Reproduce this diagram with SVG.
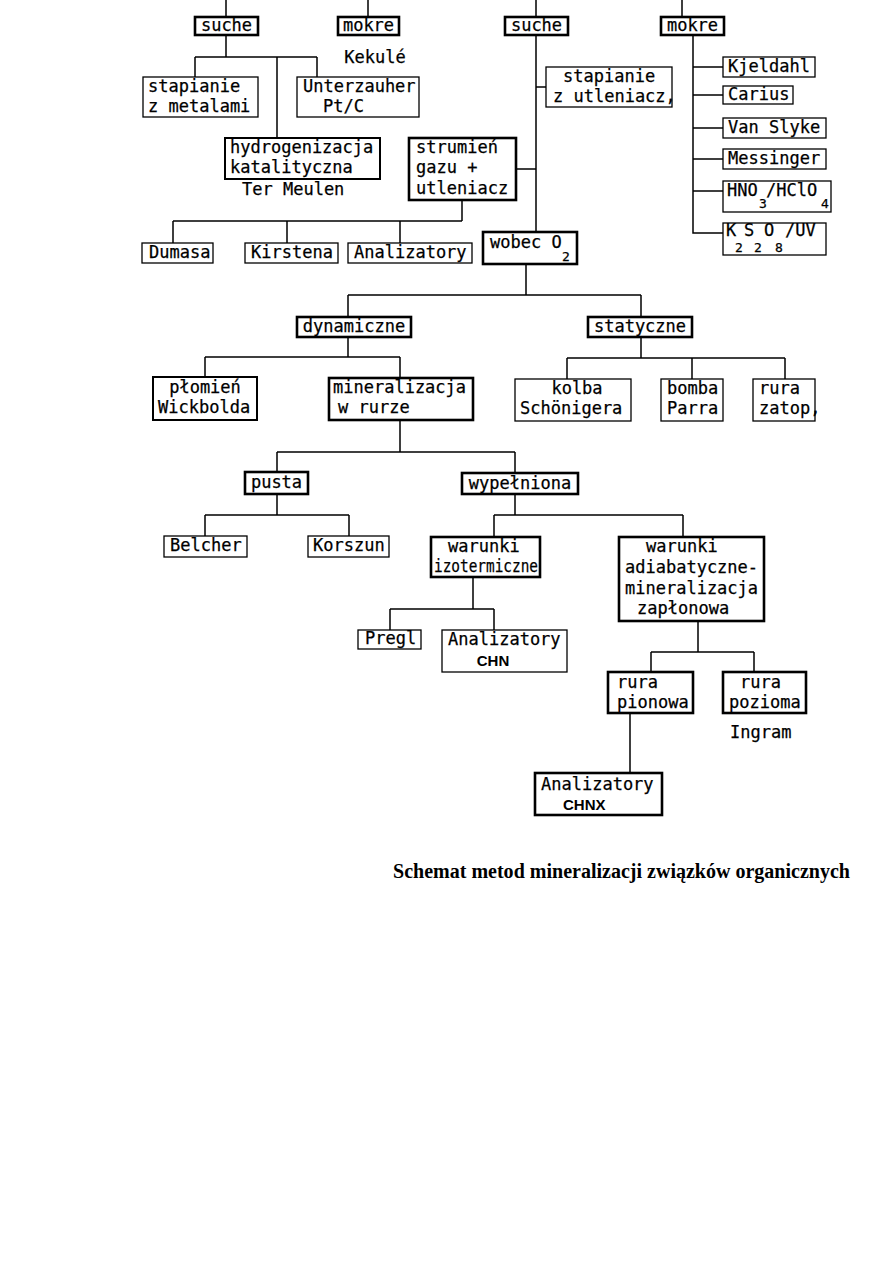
<svg xmlns="http://www.w3.org/2000/svg" width="893" height="1263" viewBox="0 0 893 1263">
<style>
rect{fill:#fff;stroke:#000}
.k{stroke-width:2.6}
.m{stroke-width:2}
.t{stroke-width:1.3}
#connectors path{fill:none;stroke:#000;stroke-width:1.5}
text{font-family:"DejaVu Sans Mono","Liberation Mono",monospace;font-size:17px;fill:#000;stroke:#000;stroke-width:0.25}
text.s{font-size:13px}
text.h{font-family:"Liberation Sans",Arial,sans-serif;font-weight:bold;font-size:15px;stroke:none}
text.cap{font-family:"Liberation Serif","Times New Roman",serif;font-weight:bold;font-size:20px;stroke:none}
.mid{text-anchor:middle}
</style>
<rect x="0" y="0" width="893" height="1263" style="fill:#fff;stroke:none"/>
<g id="connectors">
<path d="M226,0V17M368,0V17M536,0V17M682,0V17"/>
<path d="M226,35V57M195,57H317M195,57V77M317,57V77M277,57V138"/>
<path d="M536,35V232M536,87H546M516,169H536"/>
<path d="M693,35V233H723M693,67H723M693,95H723M693,128H723M693,159H723M693,191H723"/>
<path d="M462,200V221M173,221H462M173,221V243M287,221V243M400,221V243"/>
<path d="M526,264V295M348,295H641M348,295V317M641,295V317"/>
<path d="M348,337V357M205,357H400M205,357V377M400,357V378"/>
<path d="M641,337V358M567,358H785M567,358V379M692,358V379M785,358V379"/>
<path d="M400,420V452M277,452H515M277,452V472M515,452V473"/>
<path d="M277,494V515M205,515H349M205,515V536M349,515V536"/>
<path d="M515,494V515M494,515H683M494,515V537M683,515V537"/>
<path d="M473,577V609M390,609H494M390,609V630M494,609V630"/>
<path d="M698,621V652M651,652H754M651,652V672M754,652V672"/>
<path d="M630,713V773"/>
</g>
<g id="n-suche1"><rect class="k" x="195" y="17" width="63" height="18"/><text class="mid" x="226.5" y="31">suche</text></g>
<g id="n-mokre1"><rect class="k" x="338" y="17" width="61" height="18"/><text class="mid" x="368.5" y="31">mokre</text><text class="mid" x="375" y="63">Kekulé</text></g>
<g id="n-stapianie-metal"><rect class="t" x="143" y="77" width="115" height="40"/><text x="148" y="92">stapianie</text><text x="148" y="112">z metalami</text></g>
<g id="n-unterzauher"><rect class="t" x="297" y="77" width="122" height="40"/><text x="303" y="92">Unterzauher</text><text x="323" y="112">Pt/C</text></g>
<g id="n-hydro"><rect class="m" x="225" y="138" width="155" height="41"/><text x="230" y="153">hydrogenizacja</text><text x="230" y="173">katalityczna</text><text x="242" y="195">Ter Meulen</text></g>
<g id="n-strumien"><rect class="k" x="409" y="138" width="107" height="62"/><text x="416" y="153">strumień</text><text x="416" y="173">gazu +</text><text x="416" y="194">utleniacz</text></g>
<g id="n-suche2"><rect class="k" x="505" y="17" width="63" height="18"/><text class="mid" x="536.5" y="31">suche</text></g>
<g id="n-mokre2"><rect class="k" x="661" y="17" width="63" height="18"/><text class="mid" x="692.5" y="31">mokre</text></g>
<g id="n-stapianie-utl"><rect class="t" x="546" y="67" width="126" height="40"/><text x="563" y="82">stapianie</text><text x="553" y="102">z utleniacz,</text></g>
<g id="n-kjeldahl"><rect class="t" x="723" y="57" width="92" height="20"/><text x="728" y="72">Kjeldahl</text></g>
<g id="n-carius"><rect class="t" x="723" y="86" width="70" height="18"/><text x="728" y="100">Carius</text></g>
<g id="n-vanslyke"><rect class="t" x="723" y="118" width="103" height="20"/><text x="728" y="133">Van Slyke</text></g>
<g id="n-messinger"><rect class="t" x="723" y="149" width="103" height="20"/><text x="728" y="164">Messinger</text></g>
<g id="n-hno3"><rect class="t" x="723" y="181" width="108" height="31"/><text x="727" y="196">HNO</text><text class="s" x="759" y="208">3</text><text x="766" y="196">/HClO</text><text class="s" x="821" y="208">4</text></g>
<g id="n-k2s2o8"><rect class="t" x="723" y="223" width="103" height="32"/><text x="726" y="236">K</text><text class="s" x="735" y="252">2</text><text x="744" y="236">S</text><text class="s" x="754" y="252">2</text><text x="764" y="236">O</text><text class="s" x="775" y="252">8</text><text x="785" y="236">/UV</text></g>
<g id="n-dumasa"><rect class="t" x="142" y="243" width="71" height="20"/><text x="149" y="258">Dumasa</text></g>
<g id="n-kirstena"><rect class="t" x="245" y="243" width="93" height="20"/><text x="251" y="258">Kirstena</text></g>
<g id="n-analizatory1"><rect class="t" x="348" y="243" width="124" height="20"/><text x="354" y="258">Analizatory</text></g>
<g id="n-wobec"><rect class="k" x="483" y="232" width="94" height="32"/><text x="490" y="248">wobec O</text><text class="s" x="562" y="261">2</text></g>
<g id="n-dynamiczne"><rect class="k" x="297" y="317" width="114" height="20"/><text class="mid" x="354" y="332">dynamiczne</text></g>
<g id="n-statyczne"><rect class="k" x="588" y="317" width="104" height="20"/><text class="mid" x="640" y="332">statyczne</text></g>
<g id="n-plomien"><rect class="m" x="153" y="377" width="104" height="43"/><text class="mid" x="205" y="393">płomień</text><text x="158" y="413">Wickbolda</text></g>
<g id="n-mineralizacja"><rect class="k" x="329" y="378" width="144" height="42"/><text x="333" y="393">mineralizacja</text><text x="338" y="413">w rurze</text></g>
<g id="n-kolba"><rect class="t" x="515" y="379" width="116" height="42"/><text class="mid" x="577" y="394">kolba</text><text x="520" y="414">Schönigera</text></g>
<g id="n-bomba"><rect class="t" x="661" y="379" width="62" height="42"/><text x="667" y="394">bomba</text><text x="667" y="414">Parra</text></g>
<g id="n-rura-zatop"><rect class="t" x="753" y="379" width="62" height="42"/><text x="759" y="394">rura</text><text x="759" y="414">zatop,</text></g>
<g id="n-pusta"><rect class="k" x="245" y="472" width="63" height="22"/><text class="mid" x="276.5" y="488">pusta</text></g>
<g id="n-wypelniona"><rect class="k" x="462" y="473" width="116" height="21"/><text class="mid" x="520" y="489">wypełniona</text></g>
<g id="n-belcher"><rect class="t" x="164" y="536" width="83" height="21"/><text x="170" y="551">Belcher</text></g>
<g id="n-korszun"><rect class="t" x="308" y="536" width="81" height="21"/><text x="313" y="551">Korszun</text></g>
<g id="n-izotermiczne"><rect class="k" x="431" y="537" width="109" height="40"/><text x="448" y="552">warunki</text><text x="434" y="572" textLength="104" lengthAdjust="spacingAndGlyphs">izotermiczne</text></g>
<g id="n-adiabatyczne"><rect class="k" x="619" y="537" width="145" height="84"/><text x="646" y="552">warunki</text><text x="625" y="573">adiabatyczne-</text><text x="625" y="594">mineralizacja</text><text x="637" y="614">zapłonowa</text></g>
<g id="n-pregl"><rect class="t" x="358" y="630" width="63" height="19"/><text x="365" y="644">Pregl</text></g>
<g id="n-chn"><rect class="t" x="442" y="630" width="125" height="42"/><text x="448" y="645">Analizatory</text><text class="h mid" x="493" y="666">CHN</text></g>
<g id="n-pionowa"><rect class="k" x="608" y="672" width="85" height="41"/><text x="617" y="688">rura</text><text x="617" y="708">pionowa</text></g>
<g id="n-pozioma"><rect class="k" x="723" y="672" width="83" height="41"/><text x="740" y="688">rura</text><text x="729" y="708">pozioma</text><text x="730" y="738">Ingram</text></g>
<g id="n-chnx"><rect class="k" x="535" y="773" width="127" height="42"/><text x="541" y="790">Analizatory</text><text class="h" x="563" y="810">CHNX</text></g>
<g id="caption"><text class="cap" x="393" y="878" textLength="457" lengthAdjust="spacingAndGlyphs">Schemat metod mineralizacji związków organicznych</text></g>
</svg>
